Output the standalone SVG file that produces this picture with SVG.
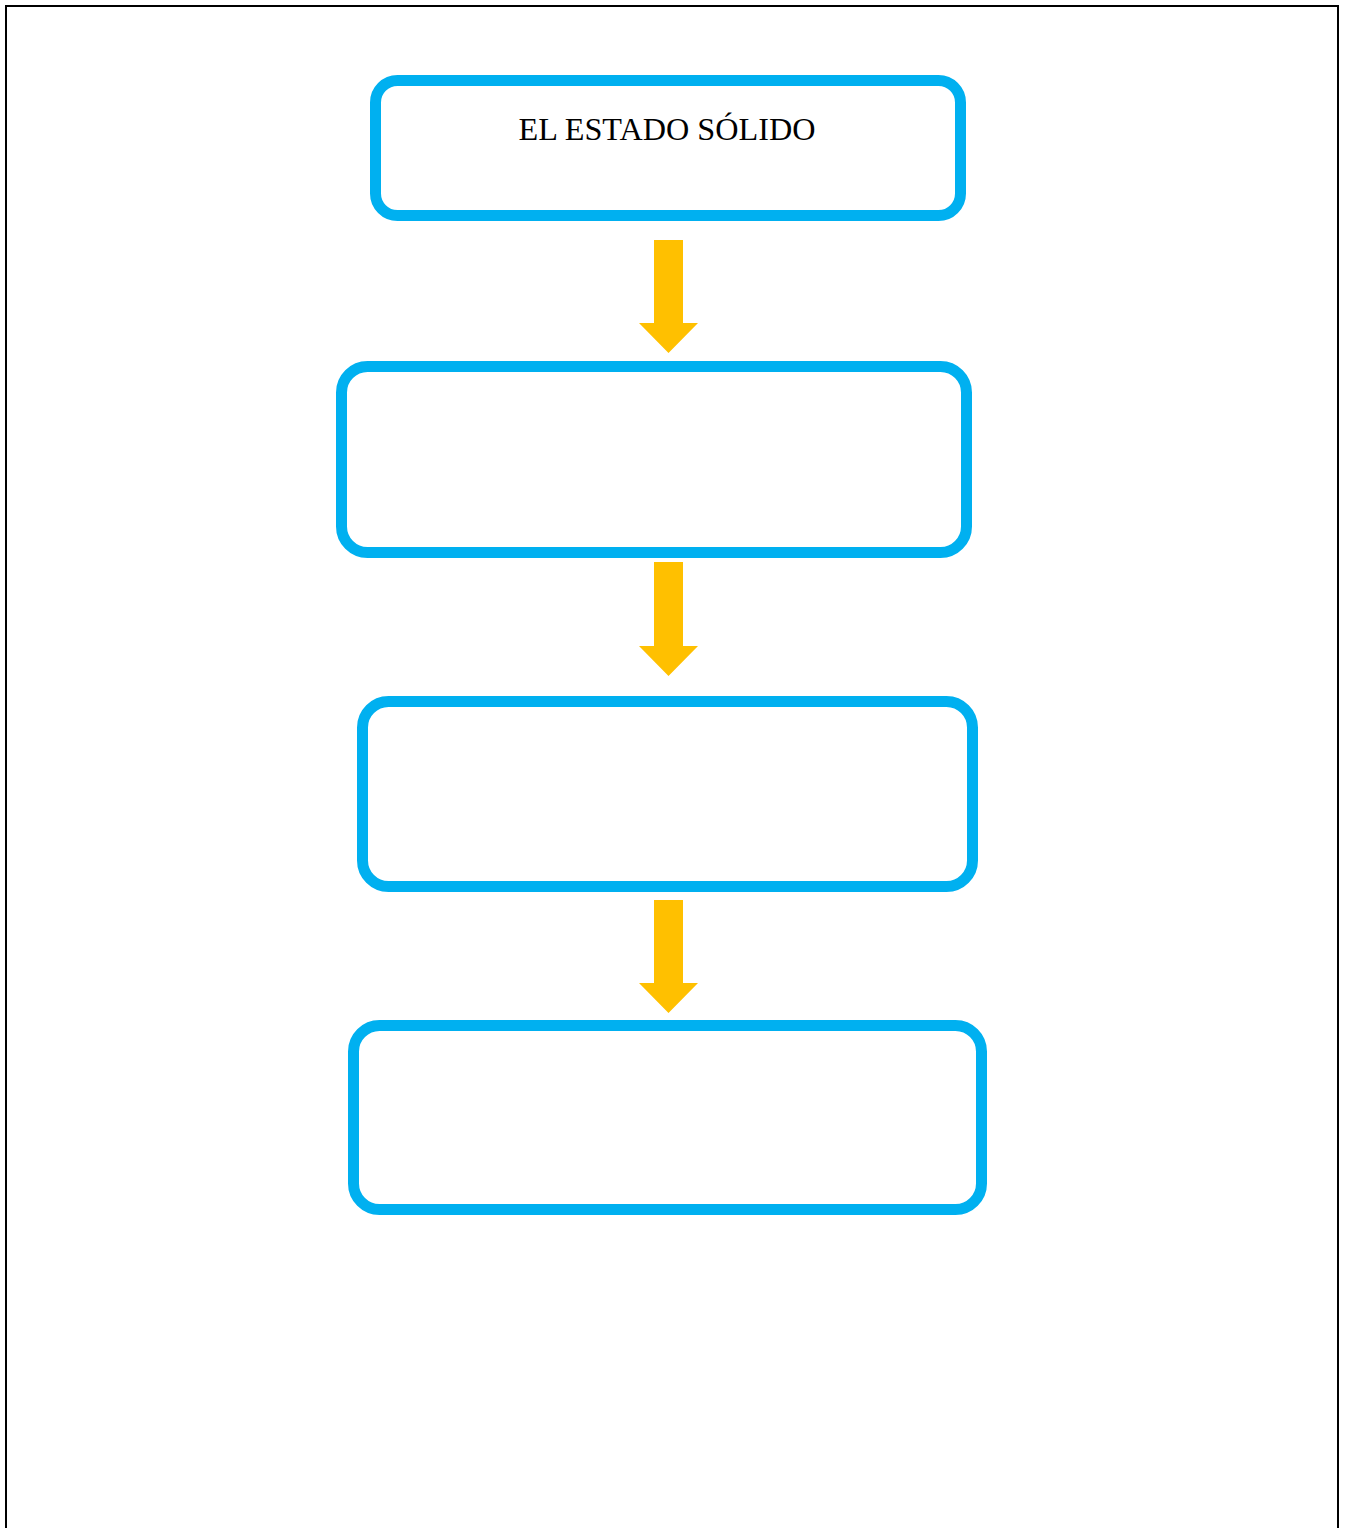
<svg xmlns="http://www.w3.org/2000/svg" width="1345" height="1528" viewBox="0 0 1345 1528">
<style>
.box{fill:#FFFFFF;stroke:#00B0F0;stroke-width:11}
.arrow{fill:#FFC000}
.lbl{font-family:"Liberation Serif","Times New Roman",serif;font-size:32px;fill:#000000;text-anchor:middle}
</style>
<rect x="0" y="0" width="1345" height="1528" fill="#FFFFFF"/>
<rect x="6" y="6" width="1332" height="1540" fill="none" stroke="#000000" stroke-width="2"/>
<g id="connectors">
<path class="arrow" d="M654,240 H683 V323 H698 L668.5,353 L639,323 H654 Z"/>
<path class="arrow" d="M654,562 H683 V646 H698 L668.5,676 L639,646 H654 Z"/>
<path class="arrow" d="M654,900 H683 V983 H698 L668.5,1013 L639,983 H654 Z"/>
</g>
<g id="node1">
<rect class="box" x="375.5" y="80.5" width="585" height="135" rx="22" ry="22"/>
<text class="lbl" x="667" y="140" textLength="297" lengthAdjust="spacingAndGlyphs">EL ESTADO SÓLIDO</text>
</g>
<g id="node2">
<rect class="box" x="341.5" y="366.5" width="625" height="186" rx="26" ry="26"/>
</g>
<g id="node3">
<rect class="box" x="362.5" y="701.5" width="610" height="185" rx="26" ry="26"/>
</g>
<g id="node4">
<rect class="box" x="353.5" y="1025.5" width="628" height="184" rx="26" ry="26"/>
</g>
</svg>
